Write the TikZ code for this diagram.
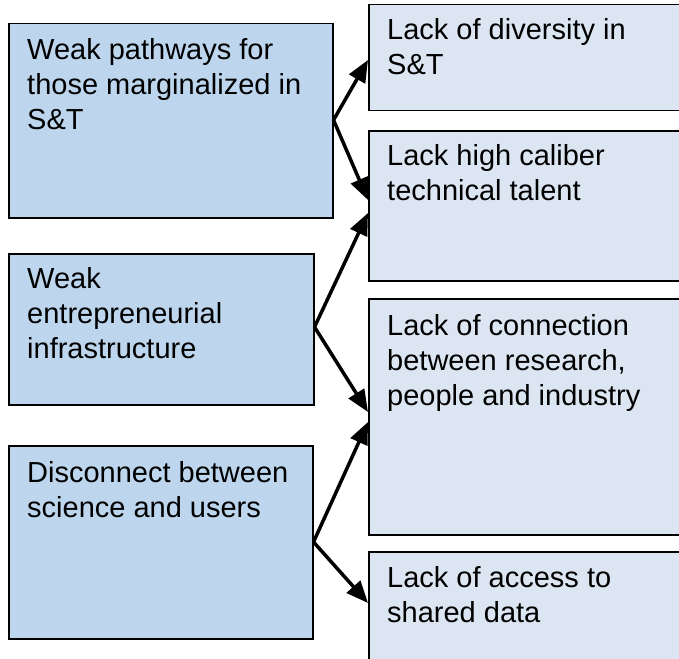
\documentclass[tikz,border=0pt]{standalone}
\usepackage{fontspec}
\setmainfont{Liberation Sans}
\usetikzlibrary{arrows.meta,calc}
\definecolor{leftfill}{RGB}{189,214,238}
\definecolor{rightfill}{RGB}{220,230,242}
\begin{document}
\begin{tikzpicture}[x=1pt,y=-1pt,
  leftbox/.style={draw=black,line width=1.5pt,fill=leftfill,anchor=north west,inner sep=0pt,minimum width=#1},
  rightbox/.style={draw=black,line width=1.5pt,fill=rightfill,anchor=north west,inner sep=0pt},
  txt/.style={anchor=base west,align=left,inner sep=0pt,font=\fontsize{29}{35}\selectfont},
  arr/.style={line width=3.5pt,-{Triangle[length=22pt,width=18pt]}}]
\useasboundingbox (0,0) rectangle (679,658);
\clip (0,0) rectangle (679,658);
% left boxes
\node[leftbox=324pt,minimum height=194pt] (l1) at (8,23) {};
\node[leftbox=305pt,minimum height=151pt] (l2) at (8,253) {};
\node[leftbox=304pt,minimum height=193pt] (l3) at (8,445) {};
% right boxes
\node[rightbox,minimum width=330pt,minimum height=106pt] (r1) at (368,4) {};
\node[rightbox,minimum width=330pt,minimum height=150pt] (r2) at (368,130) {};
\node[rightbox,minimum width=330pt,minimum height=236pt] (r3) at (368,298) {};
\node[rightbox,minimum width=330pt,minimum height=130pt] (r4) at (368,551) {};
% texts (base anchor = last line)
\node[txt] (t1) at (27,129) {Weak pathways for\\those marginalized in\\S\&T};
\node[txt] (t2) at (27,358) {Weak\\entrepreneurial\\infrastructure};
\node[txt] (t3) at (27,517) {Disconnect between\\science and users};
\node[txt] (u1) at (387,75) {Lack of diversity in\\S\&T};
\node[txt] (u2) at (387,200) {Lack high caliber\\technical talent};
\node[txt] (u3) at (387,405) {Lack of connection\\between research,\\people and industry};
\node[txt] (u4) at (387,622) {Lack of access to\\shared data};
% connector endpoints
\coordinate (s1) at ($(l1.north east)+(0,97)$);
\coordinate (s2) at ($(l2.north east)+(0,74)$);
\coordinate (s3) at ($(l3.north east)+(0,97)$);
\coordinate (e1) at ($(r1.north west)+(0,56)$);
\coordinate (e2) at ($(r2.north west)+(0,70)$);
\coordinate (e3) at ($(r2.north west)+(0,83)$);
\coordinate (e4) at ($(r3.north west)+(0,114)$);
\coordinate (e5) at ($(r3.north west)+(0,124)$);
\coordinate (e6) at ($(r4.north west)+(0,52)$);
\draw[arr] (s1) -- (e1);
\draw[arr] (s1) -- (e2);
\draw[arr] (s2) -- (e3);
\draw[arr] (s2) -- (e4);
\draw[arr] (s3) -- (e5);
\draw[arr] (s3) -- (e6);
\end{tikzpicture}
\end{document}
